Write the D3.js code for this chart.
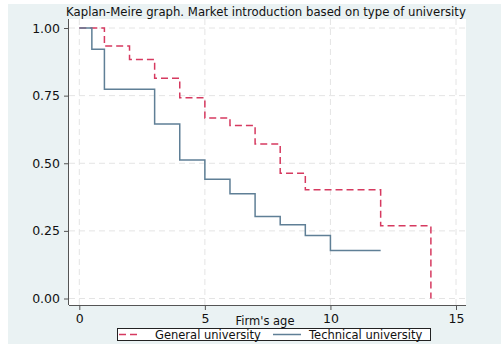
<!DOCTYPE html>
<html>
<head>
<meta charset="utf-8">
<script src="https://cdn.jsdelivr.net/npm/d3@7"></script>
<style>
  html, body { margin: 0; padding: 0; background: #ffffff; }
  svg { display: block; }
  text { font-family: "DejaVu Sans", sans-serif; fill: #111; }
</style>
</head>
<body>
<script>
// Kaplan-Meier survival estimates by type of university
const titleText = "Kaplan-Meire graph. Market introduction based on type of university";
const xAxisTitle = "Firm's age";
const seriesNames = ["General university", "Technical university"];

const generalTimes = [0, 1, 2, 3, 4, 5, 6, 7, 8, 9, 12, 14];
const generalSurvival = [1.00, 0.933, 0.884, 0.814, 0.742, 0.667, 0.640, 0.571, 0.463, 0.402, 0.269, 0.00];

const technicalTimes = [0, 0.5, 1, 3, 4, 5, 6, 7, 8, 9, 10, 12];
const technicalSurvival = [1.00, 0.921, 0.774, 0.645, 0.512, 0.441, 0.387, 0.303, 0.273, 0.233, 0.177, 0.177];

const xTicks = [0, 5, 10, 15];
const yTicks = [0, 0.25, 0.5, 0.75, 1];

const W = 501, H = 344;
const colGeneral = "#d63a60";
const colTechnical = "#5f7f96";
const FONT = "DejaVu Sans, sans-serif";

const svg = d3.select("body").append("svg").attr("width", W).attr("height", H);

// outer graph region
svg.append("rect").attr("x", 8).attr("y", 4).attr("width", W - 8).attr("height", H - 4)
  .attr("fill", "#eaf2f3");

// plot region
const plot = { left: 69, right: 466, top: 19, bottom: 305 };
svg.append("rect").attr("x", plot.left).attr("y", plot.top)
  .attr("width", plot.right - plot.left).attr("height", plot.bottom - plot.top)
  .attr("fill", "#ffffff");

const x = d3.scaleLinear().domain([0, 15]).range([79.3, 456]);
const y = d3.scaleLinear().domain([0, 1]).range([298.5, 28]);

// grid
const grid = svg.append("g").attr("stroke", "#e4e4e4").attr("stroke-width", 1)
  .attr("stroke-dasharray", "6,4");
grid.selectAll("line.h").data(yTicks).join("line")
  .attr("x1", plot.left).attr("x2", plot.right)
  .attr("y1", d => y(d)).attr("y2", d => y(d));
grid.selectAll("line.v").data(xTicks).join("line")
  .attr("y1", plot.top).attr("y2", plot.bottom)
  .attr("x1", d => x(d)).attr("x2", d => x(d));

// axes
const xAxis = d3.axisBottom(x).tickValues(xTicks).tickSize(5).tickPadding(4).tickFormat(d3.format("d"));
const gx = svg.append("g").attr("transform", `translate(0,${plot.bottom})`).call(xAxis);
gx.select(".domain").attr("d", `M${plot.left},0.5H${plot.right}`).attr("stroke", "#555");
gx.selectAll(".tick line").attr("stroke", "#555");
gx.selectAll(".tick text").attr("font-size", 12.5).attr("fill", "#111").attr("font-family", FONT);

const yAxis = d3.axisLeft(y).tickValues(yTicks).tickSize(5).tickPadding(4).tickFormat(d3.format(".2f"));
const gy = svg.append("g").attr("transform", `translate(${plot.left},0)`).call(yAxis);
gy.select(".domain").attr("d", `M-0.5,${plot.top}V${plot.bottom}`).attr("stroke", "#555");
gy.selectAll(".tick line").attr("stroke", "#555");
gy.selectAll(".tick text").attr("font-size", 12.5).attr("fill", "#111").attr("font-family", FONT);

// survival curves
const step = d3.line().curve(d3.curveStepAfter).x(d => x(d[0])).y(d => y(d[1]));
const generalData = generalTimes.map((t, i) => [t, generalSurvival[i]]);
const technicalData = technicalTimes.map((t, i) => [t, technicalSurvival[i]]);

svg.append("path").datum(generalData).attr("d", step)
  .attr("fill", "none").attr("stroke", colGeneral).attr("stroke-width", 1.5)
  .attr("stroke-dasharray", "7,4");
svg.append("path").datum(technicalData).attr("d", step)
  .attr("fill", "none").attr("stroke", colTechnical).attr("stroke-width", 1.5);

// title
svg.append("text").attr("x", 266).attr("y", 16).attr("text-anchor", "middle")
  .attr("font-size", 11.7).text(titleText);

// x axis title
svg.append("text").attr("x", 265).attr("y", 325).attr("text-anchor", "middle")
  .attr("font-size", 11.5).text(xAxisTitle);

// legend
const lg = svg.append("g");
lg.append("rect").attr("x", 117.5).attr("y", 328.5).attr("width", 313).attr("height", 12)
  .attr("fill", "#ffffff").attr("stroke", "#222").attr("stroke-width", 1);
lg.append("line").attr("x1", 119).attr("x2", 141).attr("y1", 334.5).attr("y2", 334.5)
  .attr("stroke", colGeneral).attr("stroke-width", 1.5).attr("stroke-dasharray", "7,4");
lg.append("text").attr("x", 155).attr("y", 338.5).attr("font-size", 11.5).text(seriesNames[0]);
lg.append("line").attr("x1", 273).attr("x2", 301).attr("y1", 334.5).attr("y2", 334.5)
  .attr("stroke", colTechnical).attr("stroke-width", 1.5);
lg.append("text").attr("x", 309).attr("y", 338.5).attr("font-size", 11.5).text(seriesNames[1]);
</script>
</body>
</html>
